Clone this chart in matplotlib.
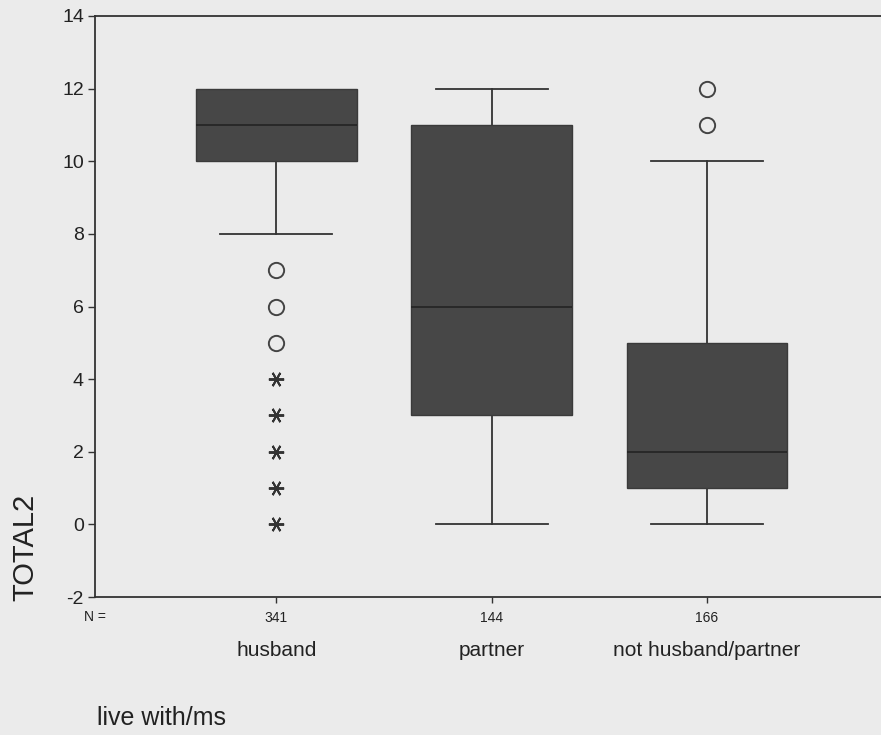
import matplotlib.pyplot as plt

plt.rcParams['font.family'] = ['Liberation Sans', 'DejaVu Sans']
plt.rcParams['axes.unicode_minus'] = False

groups = ["husband", "partner", "not husband/partner"]
counts = [341, 144, 166]
q1 = [10, 3, 1]
med = [11, 6, 2]
q3 = [12, 11, 5]
whis_lo = [8, 0, 0]
whis_hi = [12, 12, 10]
# outliers (circles) and extremes (asterisks) per group
outliers = [[7, 6, 5], [], [11, 12]]
extremes = [[4, 3, 2, 1, 0], [], []]

paper = "#ebebeb"
ink = "#333333"

fig = plt.figure(figsize=(8.81, 7.35), dpi=100, facecolor=paper)
ax = fig.add_axes([95 / 881, 138 / 735, 795 / 881, 581 / 735], facecolor=paper)

stats = []
for i, g in enumerate(groups):
	stats.append(dict(label=g, q1=q1[i], med=med[i], q3=q3[i],
					  whislo=whis_lo[i], whishi=whis_hi[i], fliers=[]))

pos = [1, 2, 3]
parts = ax.bxp(stats, positions=pos, widths=0.745, patch_artist=True, showfliers=False,
			   boxprops=dict(facecolor="#474747", edgecolor="#3a3a3a", linewidth=1.0, zorder=3),
			   medianprops=dict(color="#262626", linewidth=1.3, zorder=4),
			   whiskerprops=dict(color=ink, linewidth=1.3, zorder=2),
			   capprops=dict(color=ink, linewidth=1.3, zorder=2),
			   capwidths=0.52)

# a cap sitting on the box edge is hidden
for i in range(len(groups)):
	if whis_hi[i] == q3[i]:
		parts["caps"][2 * i + 1].set_visible(False)
	if whis_lo[i] == q1[i]:
		parts["caps"][2 * i].set_visible(False)

for p, vals in zip(pos, outliers):
	ax.plot([p] * len(vals), vals, linestyle="none", marker="o", markersize=11,
			markerfacecolor="none", markeredgecolor="#444444", markeredgewidth=1.4)
for p, vals in zip(pos, extremes):
	ax.plot([p] * len(vals), vals, linestyle="none", marker=(6, 2, 90), markersize=11,
			markeredgecolor="#333333", markeredgewidth=1.4)

ax.set_ylim(-2, 14)
ax.set_yticks(range(-2, 15, 2))
ax.set_xlim(0.158, 3.85)
ax.set_xticks(pos)
ax.set_xticklabels([str(c) for c in counts], fontsize=10, color="#222222")
ax.tick_params(axis="y", labelsize=14, length=5, width=1.0, color=ink, labelcolor="#222222", pad=3)
ax.tick_params(axis="x", length=4, width=1.0, color=ink, pad=6)

for s in ["left", "bottom", "top"]:
	ax.spines[s].set_color(ink)
	ax.spines[s].set_linewidth(1.3)
ax.spines["right"].set_visible(False)

ax.text(0.158, -2.0 - 20 / 36.2, "N =", fontsize=10, color="#222222",
		ha="center", va="center", clip_on=False)
for p, g in zip(pos, groups):
	ax.text(p, -2.0 - 53 / 36.2, g, fontsize=15, color="#222222", ha="center", va="center")

fig.text(25 / 881, 1 - 547 / 735, "TOTAL2", rotation=90, fontsize=21, color="#222222",
		 ha="center", va="center")
fig.text(97 / 881, 1 - 718 / 735, "live with/ms", fontsize=18, color="#222222",
		 ha="left", va="center")

fig.savefig("out.png", dpi=100, facecolor=paper)
